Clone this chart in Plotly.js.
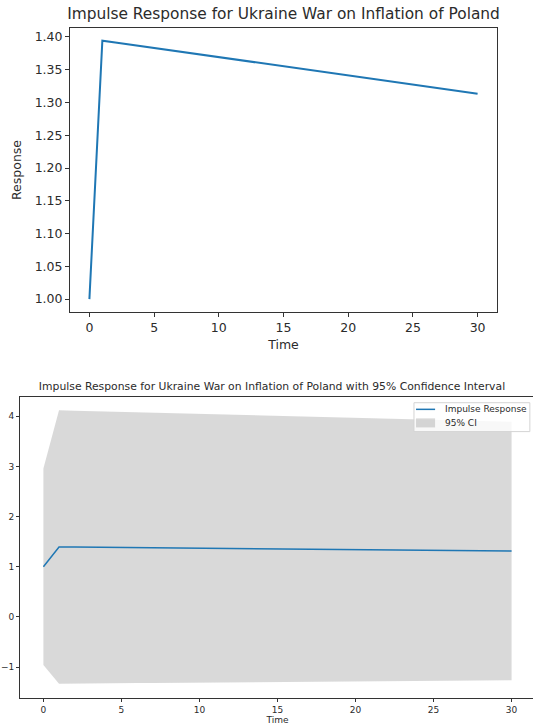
<!DOCTYPE html>
<html>
<head>
<meta charset="utf-8">
<script src="https://cdn.plot.ly/plotly-3.0.1.min.js"></script>
<style>
html, body { margin: 0; padding: 0; background: #fff; overflow: hidden; width: 533px; height: 726px; }
#top { width: 533px; height: 360px; }
#bottom { width: 536px; height: 366px; }
</style>
</head>
<body>
<div id="top"></div>
<div id="bottom"></div>
<script>
// Data
const time = [0,1,2,3,4,5,6,7,8,9,10,11,12,13,14,15,16,17,18,19,20,21,22,23,24,25,26,27,28,29,30];
const impulseResponse = [1.0000,1.3944,1.3916,1.3888,1.3860,1.3832,1.3804,1.3776,1.3749,1.3721,1.3693,1.3665,1.3637,1.3609,1.3581,1.3553,1.3525,1.3497,1.3469,1.3441,1.3413,1.3385,1.3358,1.3330,1.3302,1.3274,1.3246,1.3218,1.3190,1.3162,1.3134];
const ciUpper = [2.960,4.120,4.112,4.104,4.096,4.088,4.081,4.073,4.065,4.057,4.049,4.041,4.033,4.025,4.017,4.009,4.001,3.993,3.985,3.977,3.969,3.961,3.953,3.945,3.937,3.929,3.921,3.914,3.906,3.898,3.890];
const ciLower = [-0.960,-1.332,-1.330,-1.327,-1.325,-1.323,-1.320,-1.318,-1.316,-1.313,-1.311,-1.309,-1.306,-1.304,-1.302,-1.299,-1.297,-1.295,-1.292,-1.290,-1.288,-1.285,-1.283,-1.281,-1.278,-1.276,-1.274,-1.271,-1.269,-1.267,-1.264];
const topTitle = "Impulse Response for Ukraine War on Inflation of Poland";
const bottomTitle = "Impulse Response for Ukraine War on Inflation of Poland with 95% Confidence Interval";
const seriesNames = ["Impulse Response", "95% CI"];
const xTicks = [0,5,10,15,20,25,30];
const topYTicks = [1.00,1.05,1.10,1.15,1.20,1.25,1.30,1.35,1.40];
const bottomYTicks = [-1,0,1,2,3,4];

const FONT = "DejaVu Sans, sans-serif";
const INK = "#2b2b2b";
const BLUE = "#1f77b4";
const CI_FILL = "rgba(128,128,128,0.3)";

function axisBase(fs) {
  return {
    showline: true, mirror: true, linecolor: "#333", linewidth: 1,
    ticks: "outside", ticklen: 4, tickwidth: 1, tickcolor: "#333",
    showgrid: false, zeroline: false,
    tickfont: {family: FONT, size: fs, color: INK}
  };
}

// ---------- Top chart ----------
Plotly.newPlot("top", [{
  x: time, y: impulseResponse, type: "scatter", mode: "lines",
  line: {color: BLUE, width: 2}, showlegend: false, name: seriesNames[0]
}], {
  width: 533, height: 360,
  margin: {l: 70, r: 36, t: 28, b: 48},
  paper_bgcolor: "#fff", plot_bgcolor: "#fff",
  title: {text: topTitle, font: {family: FONT, size: 15.4, color: INK}, x: 283.5/533, xanchor: "center", y: 1 - 14/360, yanchor: "middle", yref: "container"},
  xaxis: Object.assign(axisBase(12.5), {range: [-1.5, 31.5], tickvals: xTicks, ticktext: xTicks.map(String),
    title: {text: "Time", font: {family: FONT, size: 12.5, color: INK}, standoff: 6}}),
  yaxis: Object.assign(axisBase(12.5), {range: [0.9803, 1.4137], tickvals: topYTicks, ticktext: topYTicks.map(v => v.toFixed(2)),
    title: {text: "Response", font: {family: FONT, size: 12.5, color: INK}, standoff: 10}})
}, {staticPlot: true});

// ---------- Bottom chart ----------
const ciX = time.concat(time.slice().reverse());
const ciY = ciUpper.concat(ciLower.slice().reverse());

// legend geometry (paper coords of the plot area)
const lg = {x0: 0.765, x1: 0.990, y0: 0.885, y1: 0.981, sx0: 0.769, sx1: 0.806, tx: 0.822, r1: 0.959, r2: 0.915};

Plotly.newPlot("bottom", [
  {x: ciX, y: ciY, type: "scatter", mode: "lines", fill: "toself",
   fillcolor: CI_FILL, line: {width: 0, color: CI_FILL},
   name: seriesNames[1], showlegend: false, hoverinfo: "skip"},
  {x: time, y: impulseResponse, type: "scatter", mode: "lines",
   line: {color: BLUE, width: 1.5}, name: seriesNames[0], showlegend: false}
], {
  width: 536, height: 366,
  margin: {l: 20, r: 1, t: 37, b: 28},
  paper_bgcolor: "#fff", plot_bgcolor: "#fff",
  title: {text: bottomTitle, font: {family: FONT, size: 10.8, color: INK}, x: 272/536, xanchor: "center", y: 1 - 26.7/366, yanchor: "middle", yref: "container"},
  xaxis: Object.assign(axisBase(9), {range: [-1.5, 31.5], tickvals: xTicks, ticktext: xTicks.map(String), ticklen: 3,
    title: {text: "Time", font: {family: FONT, size: 9, color: INK}, standoff: 2}}),
  yaxis: Object.assign(axisBase(9), {range: [-1.618, 4.385], tickvals: bottomYTicks, ticktext: bottomYTicks.map(v => v < 0 ? "\u2212" + Math.abs(v) : String(v)), ticklen: 3}),
  showlegend: false,
  shapes: [
    {type: "rect", xref: "paper", yref: "paper", x0: lg.x0, x1: lg.x1, y0: lg.y0, y1: lg.y1,
     fillcolor: "rgba(255,255,255,0.8)", line: {color: "#d4d4d4", width: 1}, layer: "above"},
    {type: "line", xref: "paper", yref: "paper", x0: lg.sx0, x1: lg.sx1, y0: lg.r1, y1: lg.r1,
     line: {color: BLUE, width: 1.5}, layer: "above"},
    {type: "rect", xref: "paper", yref: "paper", x0: lg.sx0, x1: lg.sx1, y0: 0.899, y1: 0.929,
     fillcolor: CI_FILL, line: {width: 0}, layer: "above"}
  ],
  annotations: [
    {xref: "paper", yref: "paper", x: lg.tx, y: lg.r1, xanchor: "left", yanchor: "middle", showarrow: false,
     text: seriesNames[0], font: {family: FONT, size: 9, color: INK}},
    {xref: "paper", yref: "paper", x: lg.tx, y: lg.r2, xanchor: "left", yanchor: "middle", showarrow: false,
     text: seriesNames[1], font: {family: FONT, size: 9, color: INK}}
  ]
}, {staticPlot: true});
</script>
</body>
</html>
